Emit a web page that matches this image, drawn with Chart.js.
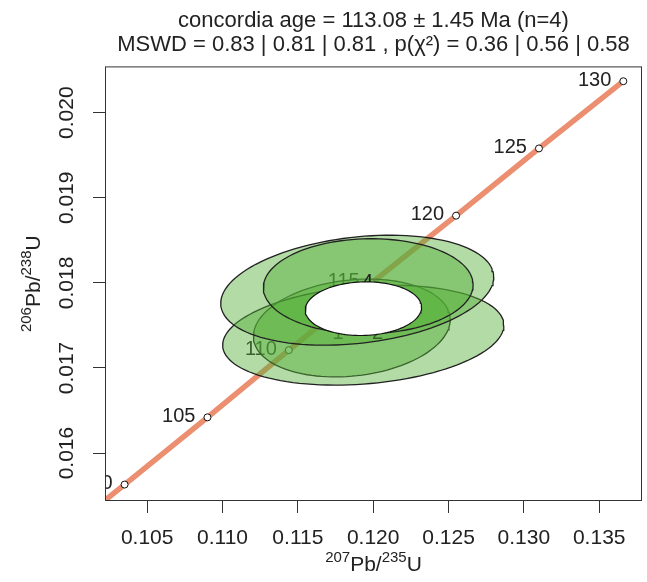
<!DOCTYPE html>
<html>
<head>
<meta charset="utf-8">
<script src="https://cdn.jsdelivr.net/npm/chart.js@4.4.0/dist/chart.umd.min.js"></script>
<style>
  html, body { margin: 0; padding: 0; background: #fff; }
</style>
</head>
<body>
<canvas id="myChart" width="647" height="582"></canvas>
<script>
// concordia curve (first point only extends the line past the corner)
const ageLabels = ['', '100', '105', '110', '115', '120', '125', '130'];
const concX = [0.1016, 0.1035, 0.1090, 0.1144, 0.1199, 0.1255, 0.1310, 0.1366];
const concY = [0.01536, 0.01563, 0.01642, 0.01721, 0.01800, 0.01879, 0.01958, 0.02037];

// aliquot error ellipses: centre, half extent in x and y, correlation
const aliquots = ['1', '2', '3', '4'];
const ellX   = [0.11858, 0.11934, 0.11894, 0.11967];
const ellY   = [0.017470, 0.017386, 0.017914, 0.017961];
const ellAx  = [0.00653, 0.00933, 0.00906, 0.00696];
const ellAy  = [0.000575, 0.000587, 0.000646, 0.000558];
const ellRho = [0.17, 0.20, 0.24, 0.03];
// where the aliquot numbers sit
const numX = [0.11766, 0.12029, 0.11894, 0.11963];
const numY = [0.017409, 0.017409, 0.017914, 0.018008];

// concordia age ellipse
const ageEll = { x: 0.11935, y: 0.017697, ax: 0.00386, ay: 0.000315, rho: 0.05 };

// axes
const xTicks = [0.105, 0.110, 0.115, 0.120, 0.125, 0.130, 0.135];
const yTicks = [0.016, 0.017, 0.018, 0.019, 0.020];
const xMin = 0.10220, xMax = 0.13784;
const yMin = 0.015437, yMax = 0.020544;

const FONT = "'Liberation Sans', Arial, sans-serif";
Chart.defaults.font.family = FONT;
Chart.defaults.color = '#222';

function ellipse(cx, cy, ax, ay, rho) {
  const pts = [];
  const s = Math.sqrt(1 - rho * rho);
  for (let k = 0; k <= 120; k++) {
    const t = 2 * Math.PI * k / 120;
    pts.push({ x: cx + ax * Math.cos(t), y: cy + ay * (rho * Math.cos(t) + s * Math.sin(t)) });
  }
  return pts;
}

const datasets = [];
datasets.push({
  role: 'concordia',
  data: concX.map((v, i) => ({ x: v, y: concY[i] })),
  borderColor: 'rgb(236,142,112)',
  borderWidth: 5.5,
  pointRadius: ageLabels.map(l => l ? 3.5 : 0),
  pointBackgroundColor: '#fff',
  pointBorderColor: '#111',
  pointBorderWidth: 1,
  tension: 0,
  fill: false,
  clip: 0,
  order: 20
});
aliquots.forEach((a, i) => {
  datasets.push({
    role: 'aliquot', idx: i,
    data: ellipse(ellX[i], ellY[i], ellAx[i], ellAy[i], ellRho[i]),
    borderColor: '#222',
    borderWidth: 1.3,
    backgroundColor: 'rgba(85,175,55,0.45)',
    fill: 'shape',
    pointRadius: 0,
    tension: 0,
    order: 10 - i
  });
});
datasets.push({
  role: 'age',
  data: ellipse(ageEll.x, ageEll.y, ageEll.ax, ageEll.ay, ageEll.rho),
  borderColor: '#111',
  borderWidth: 1.2,
  backgroundColor: '#fff',
  fill: 'shape',
  pointRadius: 0,
  tension: 0,
  order: 0
});

function supText(ctx, parts, cx, cy) {
  // parts: [text, isSuperscript]
  const big = '21px ' + FONT, small = '15px ' + FONT;
  let w = 0;
  parts.forEach(p => { ctx.font = p[1] ? small : big; w += ctx.measureText(p[0]).width; });
  let x = cx - w / 2;
  ctx.textAlign = 'left';
  ctx.textBaseline = 'alphabetic';
  parts.forEach(p => {
    ctx.font = p[1] ? small : big;
    ctx.fillText(p[0], x, p[1] ? cy - 9 : cy);
    x += ctx.measureText(p[0]).width;
  });
}

const labelPlugin = {
  id: 'labelPlugin',
  afterDatasetDraw(chart, args) {
    const ds = chart.data.datasets[args.index];
    const { ctx, chartArea, scales: { x, y } } = chart;
    ctx.save();
    ctx.beginPath();
    ctx.rect(chartArea.left, chartArea.top, chartArea.width, chartArea.height);
    ctx.clip();
    ctx.fillStyle = '#222';
    ctx.font = '20px ' + FONT;
    ctx.textBaseline = 'middle';
    if (ds.role === 'concordia') {
      ctx.textAlign = 'right';
      ageLabels.forEach((l, i) => {
        if (!l) return;
        ctx.fillText(l, x.getPixelForValue(concX[i]) - 12, y.getPixelForValue(concY[i]) - 1);
      });
    } else if (ds.role === 'aliquot') {
      const i = ds.idx;
      ctx.textAlign = 'center';
      ctx.fillText(aliquots[i], x.getPixelForValue(numX[i]), y.getPixelForValue(numY[i]));
    }
    ctx.restore();
  },
  afterDraw(chart) {
    const { ctx, chartArea } = chart;
    ctx.save();
    ctx.strokeStyle = '#333';
    ctx.lineWidth = 1;
    ctx.strokeRect(chartArea.left + 0.5, chartArea.top + 0.5, chartArea.width - 1, chartArea.height - 1);
    ctx.fillStyle = '#222';
    const mid = (chartArea.left + chartArea.right) / 2;
    supText(ctx, [['207', true], ['Pb/', false], ['235', true], ['U', false]], mid, 571);
    ctx.translate(40, (chartArea.top + chartArea.bottom) / 2);
    ctx.rotate(-Math.PI / 2);
    supText(ctx, [['206', true], ['Pb/', false], ['238', true], ['U', false]], 0, 0);
    ctx.restore();
  }
};

new Chart(document.getElementById('myChart'), {
  type: 'line',
  data: { datasets },
  options: {
    responsive: false,
    animation: false,
    events: [],
    layout: { padding: { left: 0, right: 1, top: 0, bottom: 0 } },
    plugins: {
      legend: { display: false },
      tooltip: { enabled: false },
      title: {
        display: true,
        fullSize: false,
        text: ['concordia age = 113.08 \u00b1 1.45 Ma (n=4)',
               'MSWD = 0.83 | 0.81 | 0.81 , p(\u03c7\u00b2) = 0.36 | 0.56 | 0.58'],
        font: { size: 22, weight: 'normal', lineHeight: 1.1 },
        color: '#222',
        padding: { top: 9, bottom: 9 }
      }
    },
    scales: {
      x: {
        type: 'linear', min: xMin, max: xMax, bounds: 'data',
        afterBuildTicks: s => { s.ticks = xTicks.map(v => ({ value: v })); },
        afterFit: s => { s.height = 81; },
        ticks: { callback: v => v.toFixed(3), font: { size: 21 }, color: '#222', padding: 13, maxRotation: 0, autoSkip: false },
        grid: { drawOnChartArea: false, drawTicks: true, tickLength: 12, color: '#333' },
        border: { display: false }
      },
      y: {
        type: 'linear', min: yMin, max: yMax, bounds: 'data',
        afterBuildTicks: s => { s.ticks = yTicks.map(v => ({ value: v })); },
        afterFit: s => { s.width = 105; },
        ticks: { callback: v => v.toFixed(3), font: { size: 21 }, color: '#222', padding: 0, minRotation: 90, maxRotation: 90, crossAlign: 'center', autoSkip: false },
        grid: { drawOnChartArea: false, drawTicks: true, tickLength: 12, color: '#333' },
        border: { display: false }
      }
    }
  },
  plugins: [labelPlugin]
});
</script>
</body>
</html>
